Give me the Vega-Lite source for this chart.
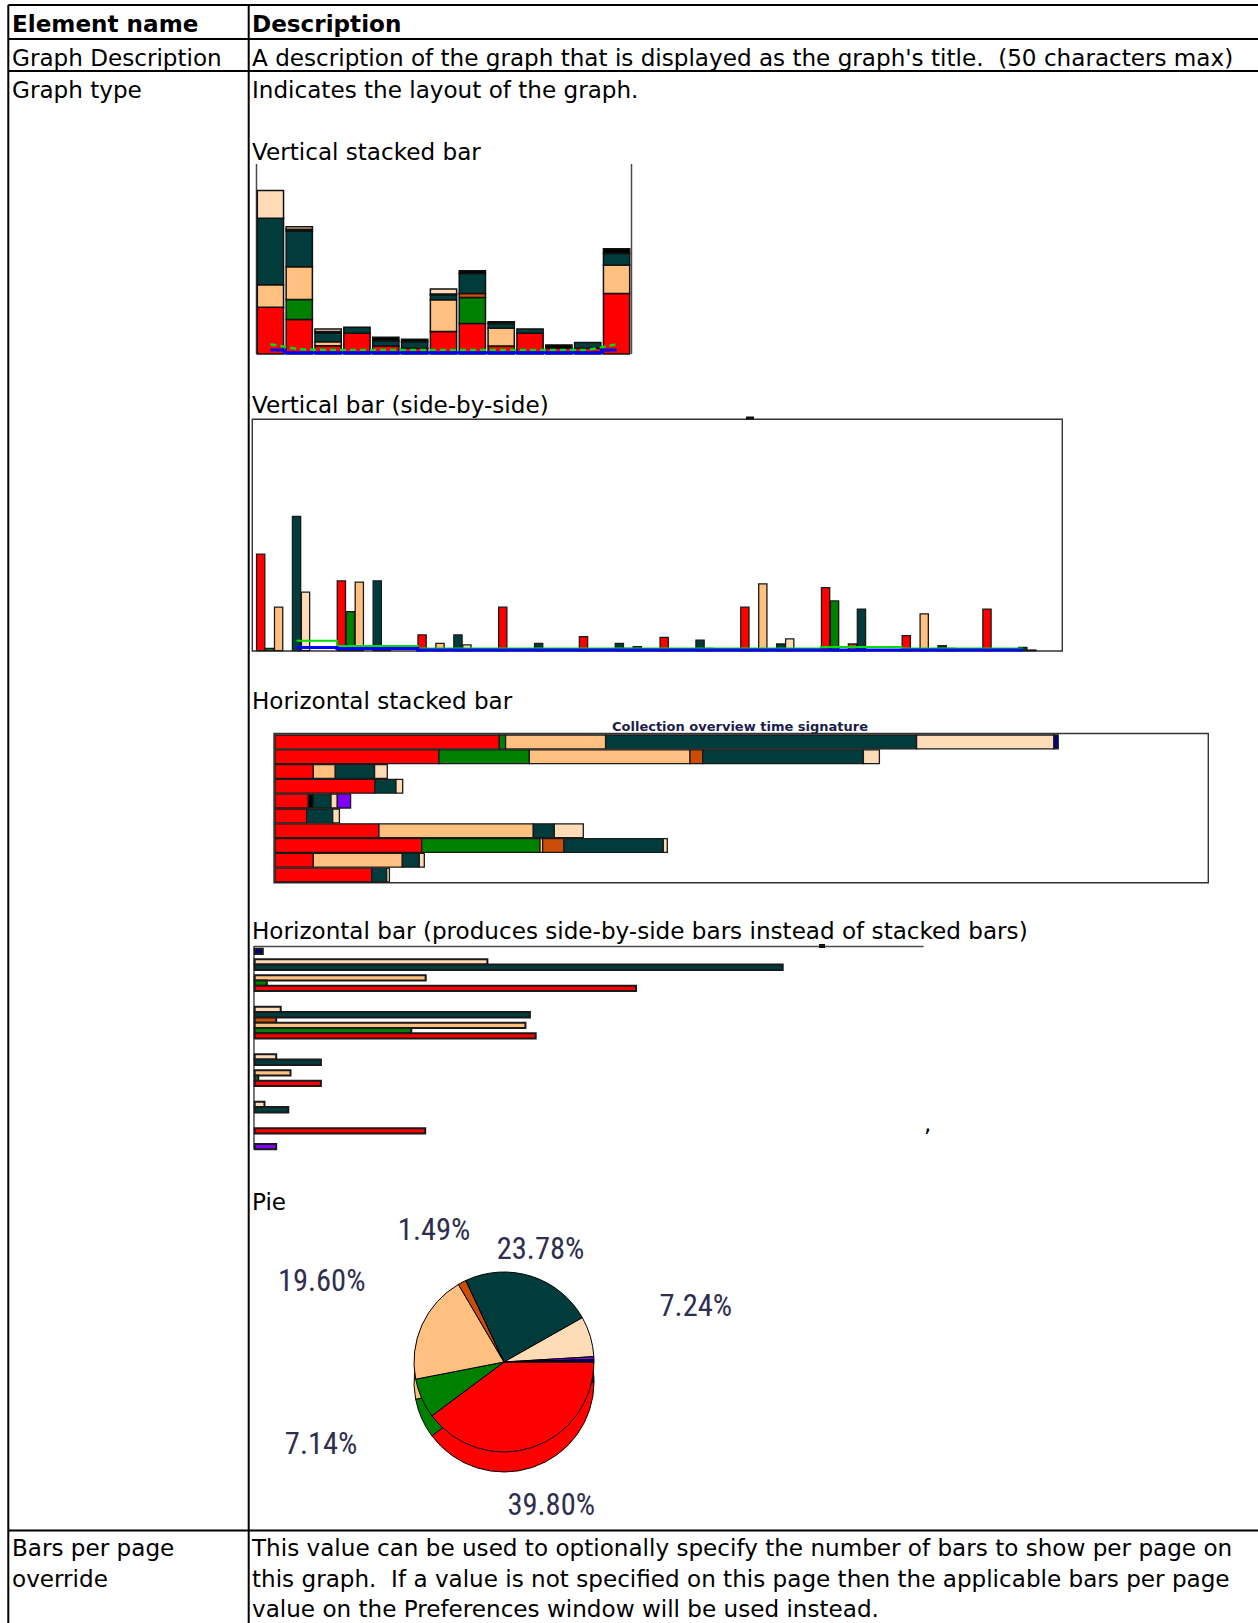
{
"$schema": "https://vega.github.io/schema/vega-lite/v6.json",
"width": 1258, "height": 1623, "padding": 0, "autosize": {"type": "none"},
"background": "#ffffff",
"config": {"view": {"stroke": null}},
"datasets": {
 "hlines": [{"x":8.3,"x2":1258,"y":5},{"x":8.3,"x2":1258,"y":39},{"x":8.3,"x2":1258,"y":71},{"x":8.3,"x2":1258,"y":1530.5}],
 "vlines": [{"x":8.3,"y":5,"y2":1623},{"x":248.7,"y":5,"y2":1623}],
 "axisV": [{"x":256.5,"y":164,"y2":354},{"x":631.5,"y":164,"y2":354},{"x":254,"y":946,"y2":1149}],
 "axisH": [{"x":254,"x2":923.6,"y":946.4}],
 "frames": [{"x":252.3,"x2":1062.3,"y":419.3,"y2":651},{"x":274,"x2":1208.3,"y":733.5,"y2":882.7}],
 "blobs": [{"x":746,"x2":754,"y":416.5,"y2":419.5},{"x":819,"x2":825,"y":944,"y2":948}],
 "bold": [{"x":12,"y":31.7,"t":"Element name"},{"x":252,"y":31.7,"t":"Description"}],
 "body": [
  {"x":12,"y":65.5,"t":"Graph Description"},
  {"x":252,"y":65.5,"t":"A description of the graph that is displayed as the graph's title.\u00a0 (50 characters max)"},
  {"x":12,"y":97.5,"t":"Graph type"},
  {"x":252,"y":97.5,"t":"Indicates the layout of the graph."},
  {"x":252,"y":159.5,"t":"Vertical stacked bar"},
  {"x":252,"y":413,"t":"Vertical bar (side-by-side)"},
  {"x":252,"y":709,"t":"Horizontal stacked bar"},
  {"x":252,"y":939,"t":"Horizontal bar (produces side-by-side bars instead of stacked bars)"},
  {"x":252,"y":1210,"t":"Pie"},
  {"x":12,"y":1556,"t":"Bars per page"},
  {"x":12,"y":1587,"t":"override"},
  {"x":252,"y":1556,"t":"This value can be used to optionally specify the number of bars to show per page on"},
  {"x":252,"y":1587,"t":"this graph.\u00a0 If a value is not specified on this page then the applicable bars per page"},
  {"x":252,"y":1617,"t":"value on the Preferences window will be used instead."},
  {"x":924,"y":1131,"t":","}
 ],
 "title3": [{"x":740,"y":731,"t":"Collection overview time signature"}],
 "vs1": [
  {"bar":1,"s":"S1","k":1,"v":24.6},{"bar":1,"s":"S3","k":2,"v":11.8},{"bar":1,"s":"S5","k":3,"v":35.1},{"bar":1,"s":"S6","k":4,"v":14.6},
  {"bar":2,"s":"S1","k":1,"v":18.2},{"bar":2,"s":"S2","k":2,"v":10.5},{"bar":2,"s":"S3","k":3,"v":17.2},{"bar":2,"s":"S5","k":4,"v":18.8},{"bar":2,"s":"S9","k":5,"v":0.9},{"bar":2,"s":"S6","k":6,"v":1.4},
  {"bar":3,"s":"S1","k":1,"v":4.4},{"bar":3,"s":"S3","k":2,"v":2.1},{"bar":3,"s":"S5","k":3,"v":4.4},{"bar":3,"s":"S9","k":4,"v":0.9},{"bar":3,"s":"S6","k":5,"v":1.4},
  {"bar":4,"s":"S1","k":1,"v":10.9},{"bar":4,"s":"S5","k":2,"v":3.2},
  {"bar":5,"s":"S1","k":1,"v":4.2},{"bar":5,"s":"S5","k":2,"v":2.8},{"bar":5,"s":"S9","k":3,"v":1.8},
  {"bar":6,"s":"S1","k":1,"v":3.0},{"bar":6,"s":"S5","k":2,"v":3.5},{"bar":6,"s":"S9","k":3,"v":1.2},
  {"bar":7,"s":"S1","k":1,"v":11.8},{"bar":7,"s":"S3","k":2,"v":16.7},{"bar":7,"s":"S5","k":3,"v":2.6},{"bar":7,"s":"S9","k":4,"v":0.5},{"bar":7,"s":"S6","k":5,"v":2.6},
  {"bar":8,"s":"S1","k":1,"v":16.1},{"bar":8,"s":"S2","k":2,"v":13.7},{"bar":8,"s":"S4","k":3,"v":2.1},{"bar":8,"s":"S5","k":4,"v":10.5},{"bar":8,"s":"S9","k":5,"v":1.4},
  {"bar":9,"s":"S1","k":1,"v":4.2},{"bar":9,"s":"S3","k":2,"v":9.3},{"bar":9,"s":"S5","k":3,"v":2.6},{"bar":9,"s":"S9","k":4,"v":0.9},
  {"bar":10,"s":"S1","k":1,"v":10.9},{"bar":10,"s":"S5","k":2,"v":2.3},
  {"bar":11,"s":"S1","k":1,"v":3.0},{"bar":11,"s":"S9","k":2,"v":1.8},
  {"bar":12,"s":"S1","k":1,"v":3.0},{"bar":12,"s":"S5","k":2,"v":3.0},
  {"bar":13,"s":"S1","k":1,"v":31.9},{"bar":13,"s":"S3","k":2,"v":14.9},{"bar":13,"s":"S5","k":3,"v":6.1},{"bar":13,"s":"S9","k":4,"v":2.5}
 ],
 "blue1": [{"bar":1,"v":2.1},{"bar":2,"v":0.7},{"bar":3,"v":0.7},{"bar":4,"v":0.7},{"bar":5,"v":0.7},{"bar":6,"v":0.7},{"bar":7,"v":0.7},{"bar":8,"v":0.7},{"bar":9,"v":0.7},{"bar":10,"v":0.7},{"bar":11,"v":0.7},{"bar":12,"v":0.7},{"bar":13,"v":2.1}],
 "green1": [{"bar":1,"v":5.1},{"bar":2,"v":2.5},{"bar":3,"v":2.1},{"bar":4,"v":2.1},{"bar":5,"v":2.1},{"bar":6,"v":2.1},{"bar":7,"v":2.1},{"bar":8,"v":2.1},{"bar":9,"v":2.1},{"bar":10,"v":2.1},{"bar":11,"v":2.1},{"bar":12,"v":2.1},{"bar":13,"v":5.1}],
 "vs2": [
  {"g":1,"s":"S1","v":41.7},{"g":1,"s":"S2","v":1.0},{"g":1,"s":"S3","v":18.8},{"g":1,"s":"S5","v":58.0},{"g":1,"s":"S6","v":25.3},
  {"g":2,"s":"S1","v":30.2},{"g":2,"s":"S2","v":16.9},{"g":2,"s":"S3","v":29.6},{"g":2,"s":"S5","v":30.2},{"g":2,"s":"S6","v":2.0},
  {"g":3,"s":"S1","v":6.8},{"g":3,"s":"S3","v":3.2},{"g":3,"s":"S5","v":6.8},{"g":3,"s":"S6","v":2.5},
  {"g":4,"s":"S1","v":18.8},{"g":4,"s":"S5","v":3.2},
  {"g":5,"s":"S1","v":6.1},{"g":5,"s":"S5","v":3.2},{"g":5,"s":"S6","v":1.0},{"g":5,"s":"S7","v":1.7},
  {"g":6,"s":"S1","v":5.8},{"g":6,"s":"S5","v":4.6},{"g":6,"s":"S6","v":1.0},
  {"g":7,"s":"S1","v":18.8},{"g":7,"s":"S3","v":28.9},{"g":7,"s":"S5","v":2.9},{"g":7,"s":"S6","v":5.1},
  {"g":8,"s":"S1","v":27.3},{"g":8,"s":"S2","v":21.5},{"g":8,"s":"S4","v":2.9},{"g":8,"s":"S5","v":18.0},
  {"g":9,"s":"S1","v":6.5},{"g":9,"s":"S3","v":15.9},{"g":9,"s":"S5","v":2.2},{"g":9,"s":"S6","v":1.0},
  {"g":10,"s":"S1","v":18.0},{"g":10,"s":"S5","v":1.4},{"g":10,"s":"S6","v":0.3}
 ],
 "blue2": [{"g":1,"v":1.4},{"g":2,"v":1.0},{"g":3,"v":0.3},{"g":4,"v":0.3},{"g":5,"v":0.3},{"g":6,"v":0.3},{"g":7,"v":0.3},{"g":8,"v":0.3},{"g":9,"v":0.3},{"g":10,"v":0.3}],
 "green2": [{"g":1,"v":4.3},{"g":2,"v":2.0},{"g":3,"v":0.9},{"g":4,"v":0.9},{"g":5,"v":0.9},{"g":6,"v":0.9},{"g":7,"v":0.9},{"g":8,"v":1.6},{"g":9,"v":0.9},{"g":10,"v":0.9}],
 "vs3": [
  {"row":1,"s":"S1","k":1,"v":224.3},{"row":1,"s":"S2","k":2,"v":6.3},{"row":1,"s":"S3","k":3,"v":100},{"row":1,"s":"S5","k":4,"v":311},{"row":1,"s":"S6","k":5,"v":137.3},{"row":1,"s":"S8","k":6,"v":4.3},
  {"row":2,"s":"S1","k":1,"v":164},{"row":2,"s":"S2","k":2,"v":90.3},{"row":2,"s":"S3","k":3,"v":160.7},{"row":2,"s":"S4","k":4,"v":12.7},{"row":2,"s":"S5","k":5,"v":160.7},{"row":2,"s":"S6","k":6,"v":16},
  {"row":3,"s":"S1","k":1,"v":38.3},{"row":3,"s":"S3","k":2,"v":22},{"row":3,"s":"S5","k":3,"v":39.3},{"row":3,"s":"S6","k":4,"v":12.7},
  {"row":4,"s":"S1","k":1,"v":100},{"row":4,"s":"S5","k":2,"v":21},{"row":4,"s":"S6","k":3,"v":6.7},
  {"row":5,"s":"S1","k":1,"v":33.3},{"row":5,"s":"S9","k":2,"v":5},{"row":5,"s":"S5","k":3,"v":17.7},{"row":5,"s":"S6","k":4,"v":6.3},{"row":5,"s":"S7","k":5,"v":13.3},
  {"row":6,"s":"S1","k":1,"v":31.7},{"row":6,"s":"S5","k":2,"v":26},{"row":6,"s":"S6","k":3,"v":6.7},
  {"row":7,"s":"S1","k":1,"v":104},{"row":7,"s":"S3","k":2,"v":154.3},{"row":7,"s":"S5","k":3,"v":21},{"row":7,"s":"S6","k":4,"v":29},
  {"row":8,"s":"S1","k":1,"v":146.7},{"row":8,"s":"S2","k":2,"v":118.3},{"row":8,"s":"S3","k":3,"v":2.7},{"row":8,"s":"S4","k":4,"v":21.3},{"row":8,"s":"S5","k":5,"v":99.3},{"row":8,"s":"S6","k":6,"v":4},
  {"row":9,"s":"S1","k":1,"v":38.3},{"row":9,"s":"S3","k":2,"v":89},{"row":9,"s":"S5","k":3,"v":17},{"row":9,"s":"S6","k":4,"v":5},
  {"row":10,"s":"S1","k":1,"v":96.7},{"row":10,"s":"S5","k":2,"v":15},{"row":10,"s":"S6","k":3,"v":2.7}
 ],
 "vs4": [
  {"row":1,"s":"S8","v":8.1},{"row":1,"s":"S6","v":232.7},{"row":1,"s":"S5","v":528},{"row":1,"s":"S3","v":171},{"row":1,"s":"S2","v":12.1},{"row":1,"s":"S1","v":381.3},
  {"row":2,"s":"S6","v":26},{"row":2,"s":"S5","v":275.2},{"row":2,"s":"S4","v":21.5},{"row":2,"s":"S3","v":270.7},{"row":2,"s":"S2","v":156.6},{"row":2,"s":"S1","v":281},
  {"row":3,"s":"S6","v":21.5},{"row":3,"s":"S5","v":66.2},{"row":3,"s":"S3","v":35.8},{"row":3,"s":"S2","v":3.6},{"row":3,"s":"S1","v":66.2},
  {"row":4,"s":"S6","v":9.8},{"row":4,"s":"S5","v":33.6},{"row":4,"s":"S1","v":170.5},
  {"row":5,"s":"S7","v":21.5}
 ],
 "pie": [
  {"s":"S1","k":1,"frac":0.3980},{"s":"S2","k":2,"frac":0.0714},{"s":"S3","k":3,"frac":0.1960},{"s":"S4","k":4,"frac":0.0149},
  {"s":"S5","k":5,"frac":0.2378},{"s":"S6","k":6,"frac":0.0724},{"s":"S7","k":7,"frac":0.0050},{"s":"S8","k":8,"frac":0.0045}
 ]
},
"layer": [
 {
  "layer": [
   {"data":{"name":"hlines"},"mark":{"type":"rule","stroke":"#000000","strokeWidth":2},
    "encoding":{"x":{"field":"x","type":"quantitative","scale":{"domain":[0,1258],"range":[0,1258],"nice":false},"axis":null},"x2":{"field":"x2"},
     "y":{"field":"y","type":"quantitative","scale":{"domain":[0,1623],"range":[0,1623],"nice":false},"axis":null}}},
   {"data":{"name":"vlines"},"mark":{"type":"rule","stroke":"#000000","strokeWidth":2},
    "encoding":{"x":{"field":"x","type":"quantitative","axis":null},"y":{"field":"y","type":"quantitative","axis":null},"y2":{"field":"y2"}}},
   {"data":{"name":"axisV"},"mark":{"type":"rule","stroke":"#4a4a4a","strokeWidth":1.5},
    "encoding":{"x":{"field":"x","type":"quantitative","axis":null},"y":{"field":"y","type":"quantitative","axis":null},"y2":{"field":"y2"}}},
   {"data":{"name":"axisH"},"mark":{"type":"rule","stroke":"#4a4a4a","strokeWidth":1.5},
    "encoding":{"x":{"field":"x","type":"quantitative","axis":null},"x2":{"field":"x2"},"y":{"field":"y","type":"quantitative","axis":null}}},
   {"data":{"name":"frames"},"mark":{"type":"rect","fillOpacity":0,"stroke":"#333333","strokeWidth":1.4},
    "encoding":{"x":{"field":"x","type":"quantitative","axis":null},"x2":{"field":"x2"},"y":{"field":"y","type":"quantitative","axis":null},"y2":{"field":"y2"}}},
   {"data":{"name":"blobs"},"mark":{"type":"rect","fill":"#111111"},
    "encoding":{"x":{"field":"x","type":"quantitative","axis":null},"x2":{"field":"x2"},"y":{"field":"y","type":"quantitative","axis":null},"y2":{"field":"y2"}}},
   {"data":{"name":"bold"},"mark":{"type":"text","align":"left","baseline":"alphabetic","font":"DejaVu Sans","fontSize":23.1,"fontWeight":"bold","color":"#000000"},
    "encoding":{"x":{"field":"x","type":"quantitative","axis":null},"y":{"field":"y","type":"quantitative","axis":null},"text":{"field":"t"}}},
   {"data":{"name":"body"},"mark":{"type":"text","align":"left","baseline":"alphabetic","font":"DejaVu Sans","fontSize":23.1,"color":"#000000"},
    "encoding":{"x":{"field":"x","type":"quantitative","axis":null},"y":{"field":"y","type":"quantitative","axis":null},"text":{"field":"t"}}},
   {"data":{"name":"title3"},"mark":{"type":"text","align":"center","baseline":"alphabetic","font":"DejaVu Sans","fontSize":13,"fontWeight":"bold","color":"#1c1c4c"},
    "encoding":{"x":{"field":"x","type":"quantitative","axis":null},"y":{"field":"y","type":"quantitative","axis":null},"text":{"field":"t"}}}
  ]
 },
 {
  "layer": [
   {"data":{"name":"vs1"},"mark":{"type":"bar","stroke":"#111111","strokeWidth":1.5},
    "encoding":{
     "x":{"field":"bar","type":"ordinal","scale":{"range":[256,631],"paddingInner":0.09,"paddingOuter":0.045},"axis":null},
     "y":{"field":"v","type":"quantitative","stack":"zero","scale":{"domain":[0,100],"range":[354,164],"nice":false},"axis":null},
     "color":{"field":"s","type":"nominal","legend":null,"scale":{"domain":["S1","S2","S3","S4","S5","S6","S7","S8","S9"],"range":["#ff0000","#008000","#ffc080","#cc4c0a","#003c3c","#ffdcb8","#8000ff","#000080","#000000"]}},
     "order":{"field":"k","type":"quantitative"}}},
   {"data":{"name":"green1"},"mark":{"type":"line","color":"#00dd00","strokeWidth":2.5,"strokeDash":[6,4]},
    "encoding":{"x":{"field":"bar","type":"ordinal","axis":null},"y":{"field":"v","type":"quantitative","axis":null}}},
   {"data":{"name":"blue1"},"mark":{"type":"line","color":"#0000ff","strokeWidth":3,"interpolate":"step"},
    "encoding":{"x":{"field":"bar","type":"ordinal","axis":null},"y":{"field":"v","type":"quantitative","axis":null}}}
  ]
 },
 {
  "layer": [
   {"data":{"name":"vs2"},"mark":{"type":"bar","stroke":"#1a1a1a","strokeWidth":1.3},
    "encoding":{
     "x":{"field":"g","type":"ordinal","scale":{"range":[256.2,1063.2],"paddingInner":0,"paddingOuter":0},"axis":null},
     "xOffset":{"field":"s","type":"nominal","scale":{"domain":["S1","S2","S3","S4","S5","S6","S7","S8","S9"],"paddingInner":0.08,"paddingOuter":0.04}},
     "y":{"field":"v","type":"quantitative","stack":null,"scale":{"domain":[0,100],"range":[650.7,419.3],"nice":false},"axis":null},
     "color":{"field":"s","type":"nominal","legend":null,"scale":{"domain":["S1","S2","S3","S4","S5","S6","S7","S8","S9"],"range":["#ff0000","#008000","#ffc080","#cc4c0a","#003c3c","#ffdcb8","#8000ff","#000080","#000000"]}}}},
   {"data":{"name":"green2"},"mark":{"type":"line","color":"#00dd00","strokeWidth":2,"interpolate":"step"},
    "encoding":{"x":{"field":"g","type":"ordinal","axis":null},"y":{"field":"v","type":"quantitative","axis":null}}},
   {"data":{"name":"blue2"},"mark":{"type":"line","color":"#0000ff","strokeWidth":3,"interpolate":"step"},
    "encoding":{"x":{"field":"g","type":"ordinal","axis":null},"y":{"field":"v","type":"quantitative","axis":null}}}
  ]
 },
 {
  "data":{"name":"vs3"},"mark":{"type":"bar","stroke":"#1a1a1a","strokeWidth":1.3},
  "encoding":{
   "y":{"field":"row","type":"ordinal","scale":{"range":[734.5,882.5],"paddingInner":0.07,"paddingOuter":0.035},"axis":null},
   "x":{"field":"v","type":"quantitative","stack":"zero","scale":{"domain":[0,933.3],"range":[275,1208.3],"nice":false},"axis":null},
   "color":{"field":"s","type":"nominal","legend":null,"scale":{"domain":["S1","S2","S3","S4","S5","S6","S7","S8","S9"],"range":["#ff0000","#008000","#ffc080","#cc4c0a","#003c3c","#ffdcb8","#8000ff","#000080","#000000"]}},
   "order":{"field":"k","type":"quantitative"}}
 },
 {
  "data":{"name":"vs4"},"mark":{"type":"bar","stroke":"#1a1a1a","strokeWidth":2},
  "encoding":{
   "y":{"field":"row","type":"ordinal","scale":{"domain":[1,2,3,4,5],"range":[943.5,1181],"paddingInner":0,"paddingOuter":0},"axis":null},
   "yOffset":{"field":"s","type":"nominal","scale":{"domain":["S9","S8","S7","S6","S5","S4","S3","S2","S1"],"paddingInner":0,"paddingOuter":0}},
   "x":{"field":"v","type":"quantitative","stack":null,"scale":{"domain":[0,668.9],"range":[254.7,923.6],"nice":false},"axis":null},
   "color":{"field":"s","type":"nominal","legend":null,"scale":{"domain":["S1","S2","S3","S4","S5","S6","S7","S8","S9"],"range":["#ff0000","#008000","#ffc080","#cc4c0a","#003c3c","#ffdcb8","#8000ff","#000080","#000000"]}}}
 },
 {
  "data":{"name":"pie"},
  "encoding":{
   "theta":{"field":"frac","type":"quantitative","stack":true,"scale":{"range":[1.5708,7.854]}},
   "order":{"field":"k","type":"quantitative"},
   "color":{"field":"s","type":"nominal","legend":null,"scale":{"domain":["S1","S2","S3","S4","S5","S6","S7","S8","S9"],"range":["#ff0000","#008000","#ffc080","#cc4c0a","#003c3c","#ffdcb8","#8000ff","#000080","#000000"]}}
  },
  "layer": [
   {"mark":{"type":"arc","outerRadius":90,"stroke":"#000000","strokeWidth":1,"x":504,"y":1382}},
   {"mark":{"type":"arc","outerRadius":90,"stroke":"#000000","strokeWidth":1,"x":504,"y":1362}},
   {"mark":{"type":"text","radius":200,"x":504,"y":1364,"font":"Liberation Sans Narrow, Roboto Condensed, Roboto","fontSize":30.5,"align":"center","baseline":"middle"},
    "encoding":{"text":{"condition":{"test":"datum.k == 2 || datum.k == 3 || datum.k == 6","field":"frac","type":"quantitative","format":".2%"},"value":""},"color":{"value":"#2e2e4e"}}},
   {"mark":{"type":"text","radius":150,"x":504,"y":1364,"font":"Liberation Sans Narrow, Roboto Condensed, Roboto","fontSize":30.5,"align":"center","baseline":"middle"},
    "encoding":{"text":{"condition":{"test":"datum.k == 1 || datum.k == 4","field":"frac","type":"quantitative","format":".2%"},"value":""},"color":{"value":"#2e2e4e"}}},
   {"mark":{"type":"text","radius":120,"x":504,"y":1364,"font":"Liberation Sans Narrow, Roboto Condensed, Roboto","fontSize":30.5,"align":"center","baseline":"middle"},
    "encoding":{"text":{"condition":{"test":"datum.k == 5","field":"frac","type":"quantitative","format":".2%"},"value":""},"color":{"value":"#2e2e4e"}}}
  ]
 }
],
"resolve":{"scale":{"x":"independent","y":"independent","color":"independent","theta":"independent","xOffset":"independent","yOffset":"independent"}}
}
